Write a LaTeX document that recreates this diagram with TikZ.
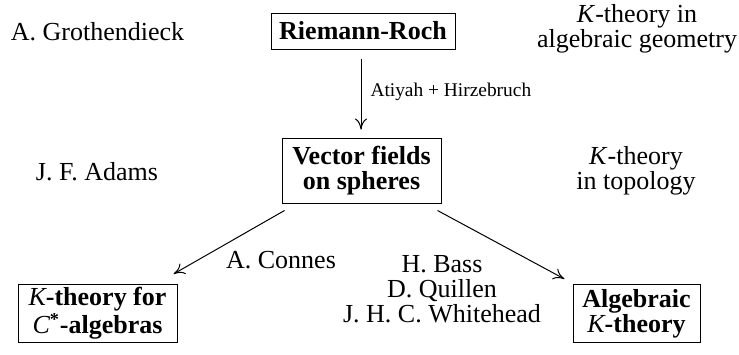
\documentclass[tikz,border=0pt]{standalone}
\usepackage{fontspec}
\setmainfont{Liberation Serif}
\usetikzlibrary{arrows.meta}
\begin{document}
\begin{tikzpicture}[x=0.5pt,y=-0.5pt,
  every node/.style={font=\fontsize{13}{12.5}\selectfont, align=center, inner sep=0pt},
  lbl/.style={anchor=base},
  boxnode/.style={draw, line width=0.5pt, font=\fontsize{13}{12.5}\selectfont\bfseries, inner sep=0pt},
  arr/.style={-{To[length=5.5pt,width=6pt]}, line width=0.5pt},
  small/.style={font=\fontsize{9.7}{11}\selectfont}]
\useasboundingbox (0,0) rectangle (739,354);
% boxes
\node[boxnode, minimum width=92pt, minimum height=18pt] (rr) at (363,31) {Riemann-Roch};
\node[boxnode, minimum width=79.5pt, minimum height=32.5pt] (vf) at (361.5,170.5) {Vector fields\\on spheres};
\node[boxnode, minimum width=79.5pt, minimum height=29pt] (cs) at (97.5,313.5) {{\normalfont\itshape K}-theory for\\{\normalfont\itshape C}\textsuperscript{*}-algebras};
\node[boxnode, minimum width=63.5pt, minimum height=29pt] (alg) at (636.5,313.5) {Algebraic\\{\normalfont\itshape K}-theory};
% labels
\node[lbl] (groth) at (97.5,40) {A. Grothendieck};
\node[lbl] (adams) at (97,180) {J. F. Adams};
\node[lbl] (kag) at (637,47) {\textit{K}-theory in\\algebraic geometry};
\node[lbl] (ktop) at (636,189) {\textit{K}-theory\\in topology};
\node[lbl] (connes) at (281,268) {A. Connes};
\node[lbl] (bass) at (442,322) {H. Bass\\D. Quillen\\J. H. C. Whitehead};
% arrows
\draw[arr] ([shift={(-2,9)}]rr.south) -- node[small, anchor=base west, pos=0.53, xshift=4.5pt] (ah) {Atiyah + Hirzebruch} ([shift={(-0.5,-8)}]vf.north);
\draw[arr] ([shift={(3,7)}]vf.south west) -- ([shift={(-4,-10)}]cs.north east);
\draw[arr] ([shift={(-4,7)}]vf.south east) -- ([shift={(-8,-5)}]alg.north west);
\end{tikzpicture}
\end{document}
